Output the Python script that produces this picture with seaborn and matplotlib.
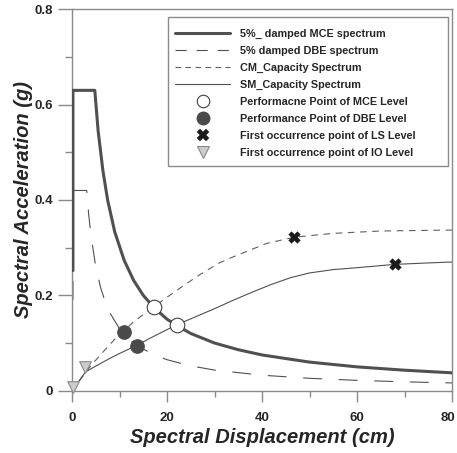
import matplotlib
matplotlib.use("Agg")
import matplotlib.pyplot as plt
import seaborn as sns
import numpy as np
import pandas as pd
from matplotlib.lines import Line2D
from matplotlib.patches import Rectangle
from matplotlib.ticker import MultipleLocator
import matplotlib.transforms as mtransforms

# ---- data ----
mce_sd = [0.2, 0.2, 4.8, 5.5, 6.5, 7.5, 9, 11, 13, 15, 17.3, 20, 22.2, 25, 30, 35, 40, 50, 60, 70, 80]
mce_sa = [0.252, 0.630, 0.630, 0.545, 0.462, 0.400, 0.333, 0.273, 0.231, 0.200, 0.174, 0.150, 0.136,
          0.120, 0.100, 0.086, 0.075, 0.060, 0.050, 0.043, 0.0375]

dbe_sd = [0.2, 0.2, 3.1, 3.5, 4, 5, 6, 7, 8, 10, 12, 14, 17, 20, 25, 30, 40, 50, 60, 70, 80]
dbe_sa = [0.168, 0.420, 0.420, 0.371, 0.325, 0.260, 0.217, 0.186, 0.163, 0.130, 0.108, 0.093,
          0.0765, 0.065, 0.052, 0.0433, 0.0325, 0.026, 0.0217, 0.0186, 0.0163]

cm_sd = [0, 1, 2.7, 4.1, 6.25, 9, 10.8, 13, 17.1, 20, 24, 27, 31, 34, 38, 41, 46.8, 55, 65, 80]
cm_sa = [0, 0.013, 0.036, 0.054, 0.078, 0.108, 0.124, 0.145, 0.175, 0.196, 0.224, 0.244, 0.268,
         0.281, 0.297, 0.309, 0.322, 0.330, 0.335, 0.337]

sm_sd = [0, 0.5, 1.5, 2.9, 4, 6, 8, 10, 13.6, 17, 22, 26, 30, 34, 38, 42, 46, 50, 55, 60, 68, 75, 80]
sm_sa = [0, 0.007, 0.021, 0.040, 0.046, 0.057, 0.068, 0.078, 0.095, 0.113, 0.138, 0.155, 0.172,
         0.190, 0.207, 0.223, 0.237, 0.247, 0.254, 0.258, 0.265, 0.268, 0.270]

pp_mce_sd = [17.2, 22.1]
pp_mce_sa = [0.175, 0.138]
pp_dbe_sd = [10.9, 13.6]
pp_dbe_sa = [0.123, 0.094]
ls_sd = [46.8, 68.0]
ls_sa = [0.322, 0.265]
io_sd = [0.3, 2.7]
io_sa = [0.007, 0.049]

x_ticks = [0, 20, 40, 60, 80]
x_ticklabels = ["0", "20", "40", "60", "80"]
y_ticks = [0, 0.2, 0.4, 0.6, 0.8]
y_ticklabels = ["0", "0.2", "0.4", "0.6", "0.8"]

labels = ["5%_ damped MCE spectrum", "5% damped DBE spectrum", "CM_Capacity Spectrum",
          "SM_Capacity Spectrum", "Performacne Point of MCE Level", "Performance Point of DBE Level",
          "First occurrence point of LS Level", "First occurrence point of IO Level"]

# ---- style ----
sns.set_style("white")
plt.rcParams['font.family'] = ['Liberation Sans', 'DejaVu Sans']

W, H = 457, 453
fig = plt.figure(figsize=(W / 100, H / 100), dpi=100)
ax = fig.add_axes([72 / W, 1 - 390.7 / H, 380 / W, 381.4 / H])

axis_gray = "#8a8a8a"
line_dark = "#505050"

sns.lineplot(x=mce_sd, y=mce_sa, ax=ax, sort=False, estimator=None, color=line_dark,
             linewidth=2.2, zorder=3)
sns.lineplot(x=dbe_sd, y=dbe_sa, ax=ax, sort=False, estimator=None, color=line_dark,
             linewidth=0.8, linestyle=(22.3, (17, 15)), zorder=2)
sns.lineplot(x=cm_sd, y=cm_sa, ax=ax, sort=False, estimator=None, color="#606060",
             linewidth=0.8, linestyle=(0, (6, 5)), zorder=2)
sns.lineplot(x=sm_sd, y=sm_sa, ax=ax, sort=False, estimator=None, color="#505050",
             linewidth=0.8, zorder=2)

sns.scatterplot(x=pp_mce_sd, y=pp_mce_sa, ax=ax, marker="o", s=110, color="white",
                edgecolor="#404040", linewidth=0.8, zorder=5)
sns.scatterplot(x=pp_dbe_sd, y=pp_dbe_sa, ax=ax, marker="o", s=95, color="#4a4a4a",
                edgecolor="#4a4a4a", linewidth=0.8, zorder=5)
sns.scatterplot(x=ls_sd, y=ls_sa, ax=ax, marker="X", s=70, color="#1a1a1a",
                edgecolor="#1a1a1a", linewidth=0.3, zorder=5)
sns.scatterplot(x=io_sd, y=io_sa, ax=ax, marker="v", s=70, color="#cccccc",
                edgecolor="#8a8a8a", linewidth=0.8, zorder=5, clip_on=False)

ax.set_xlim(0, 80)
ax.set_ylim(0, 0.8)
ax.set_xticks(x_ticks)
ax.set_xticklabels(x_ticklabels)
ax.set_yticks(y_ticks)
ax.set_yticklabels(y_ticklabels)
ax.xaxis.set_minor_locator(MultipleLocator(10))
ax.yaxis.set_minor_locator(MultipleLocator(0.1))

for sp in ax.spines.values():
    sp.set_visible(True)
    sp.set_color(axis_gray)
    sp.set_linewidth(1.0)

ax.tick_params(axis="both", which="both", direction="out", width=1.0, color=axis_gray,
               bottom=True, left=True)
ax.tick_params(axis="y", which="major", length=10, labelsize=9.5, pad=3.5)
ax.tick_params(axis="y", which="minor", length=5)
ax.tick_params(axis="x", which="major", length=8, labelsize=9.5, pad=7.5)
ax.tick_params(axis="x", which="minor", length=4.5)
for t in ax.get_xticklabels() + ax.get_yticklabels():
    t.set_fontweight("bold")
# nudge the last x label a little so it stays inside the figure
last = ax.get_xticklabels()[-1]
last.set_transform(last.get_transform() + mtransforms.ScaledTranslation(-4 / 100, 0, fig.dpi_scale_trans))

ax.set_xlabel("Spectral Displacement (cm)", fontsize=14.5, fontweight="bold",
              fontstyle="italic", labelpad=3)
ax.set_ylabel("Spectral Acceleration (g)", fontsize=14.5, fontweight="bold",
              fontstyle="italic", labelpad=1)

handles = [
    Line2D([], [], color=line_dark, linewidth=2.2),
    Line2D([], [], color=line_dark, linewidth=0.8, linestyle=(0, (10, 9))),
    Line2D([], [], color="#606060", linewidth=0.8, linestyle=(0, (5, 4))),
    Line2D([], [], color="#505050", linewidth=0.8),
    Line2D([], [], linestyle="none", marker="o", markersize=9, markerfacecolor="white",
           markeredgecolor="#404040", markeredgewidth=0.8),
    Line2D([], [], linestyle="none", marker="o", markersize=9, markerfacecolor="#4a4a4a",
           markeredgecolor="#4a4a4a"),
    Line2D([], [], linestyle="none", marker="X", markersize=8, markerfacecolor="#1a1a1a",
           markeredgecolor="#1a1a1a", markeredgewidth=0.3),
    Line2D([], [], linestyle="none", marker="v", markersize=8, markerfacecolor="#cccccc",
           markeredgecolor="#8a8a8a", markeredgewidth=0.8),
]

# legend frame drawn as a separate box
box = Rectangle((168 / W, 1 - 166 / H), (448 - 168) / W, (166 - 17) / H,
                transform=fig.transFigure, facecolor="white", edgecolor=axis_gray,
                linewidth=1.0, zorder=6)
ax.add_patch(box)
box.set_clip_on(False)

leg = ax.legend(handles, labels, loc="upper left",
                bbox_to_anchor=(175 / W, 1 - 29 / H), bbox_transform=fig.transFigure,
                borderaxespad=0, borderpad=0, frameon=False,
                prop={"family": ["Liberation Sans Narrow", "Liberation Sans"], "weight": "bold", "size": 7.8},
                handlelength=5.1, handletextpad=0.9, labelspacing=0.64)
leg.set_zorder(7)

fig.savefig("out.png", dpi=100)
